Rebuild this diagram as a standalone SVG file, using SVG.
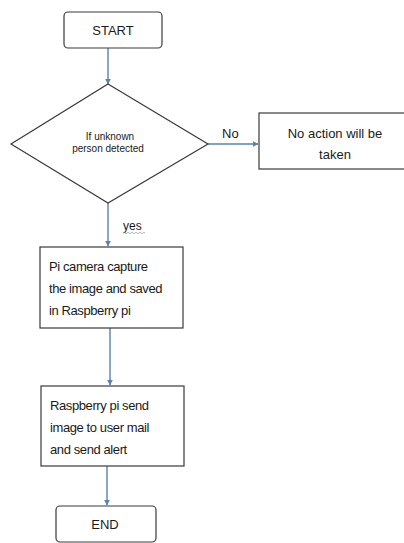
<svg xmlns="http://www.w3.org/2000/svg" width="404" height="543" viewBox="0 0 404 543">
<style>
.box{fill:#ffffff;stroke:#3a3a3a;stroke-width:1.2}
.conn{stroke:#5a82ab;stroke-width:1.4;fill:none}
.t{font-family:"Liberation Sans",Arial,sans-serif;fill:#1a1a1a}
.c{text-anchor:middle}
</style>
<defs>
<marker id="ah" viewBox="0 0 10 10" refX="9" refY="5" markerWidth="6" markerHeight="6" orient="auto" markerUnits="userSpaceOnUse">
<path d="M0,0 L10,5 L0,10 z" fill="#5a82ab"/>
</marker>
</defs>
<rect width="404" height="543" fill="#ffffff"/>
<g id="connectors">
<line class="conn" x1="108" y1="48" x2="108" y2="84" marker-end="url(#ah)"/>
<line class="conn" x1="208" y1="144" x2="258" y2="144" marker-end="url(#ah)"/>
<line class="conn" x1="108" y1="203" x2="108" y2="246" marker-end="url(#ah)"/>
<line class="conn" x1="110" y1="328" x2="110" y2="385" marker-end="url(#ah)"/>
<line class="conn" x1="107" y1="466" x2="107" y2="505" marker-end="url(#ah)"/>
<text class="t" x="222" y="138" font-size="13">No</text>
<text class="t" x="123" y="230" font-size="12">yes</text>
<path d="M123,233 q1,-1.5 2,0 t2,0 t2,0 t2,0 t2,0 t2,0 t2,0 t2,0 t2,0 t2,0 t2,0" fill="none" stroke="#8fb08f" stroke-width="0.8"/>
</g>
<g id="start">
<rect class="box" x="64" y="12" width="98" height="36" rx="4"/>
<text class="t c" x="113" y="34.5" font-size="13">START</text>
</g>
<g id="decision">
<polygon class="box" points="108,84 208,144 108,203 11,144"/>
<text class="t c" x="110" y="140" font-size="10">If unknown</text>
<text class="t c" x="108" y="152" font-size="10">person detected</text>
</g>
<g id="no-action">
<rect class="box" x="259" y="113" width="150" height="56"/>
<text class="t c" x="335" y="138" font-size="13">No action will be</text>
<text class="t c" x="335" y="159" font-size="13">taken</text>
</g>
<g id="capture">
<rect class="box" x="40" y="247" width="143" height="81"/>
<text class="t" x="49" y="271" font-size="13" letter-spacing="-0.4">Pi camera capture</text>
<text class="t" x="49" y="293" font-size="13" letter-spacing="-0.4">the image and saved</text>
<text class="t" x="49" y="315" font-size="13" letter-spacing="-0.4">in Raspberry pi</text>
</g>
<g id="send">
<rect class="box" x="41" y="386" width="143" height="80"/>
<text class="t" x="50" y="410" font-size="13" letter-spacing="-0.4">Raspberry pi send</text>
<text class="t" x="50" y="432" font-size="13" letter-spacing="-0.4">image to user mail</text>
<text class="t" x="50" y="454" font-size="13" letter-spacing="-0.4">and send alert</text>
</g>
<g id="end">
<rect class="box" x="56" y="506" width="100" height="36" rx="4"/>
<text class="t c" x="105" y="529" font-size="13">END</text>
</g>
</svg>
